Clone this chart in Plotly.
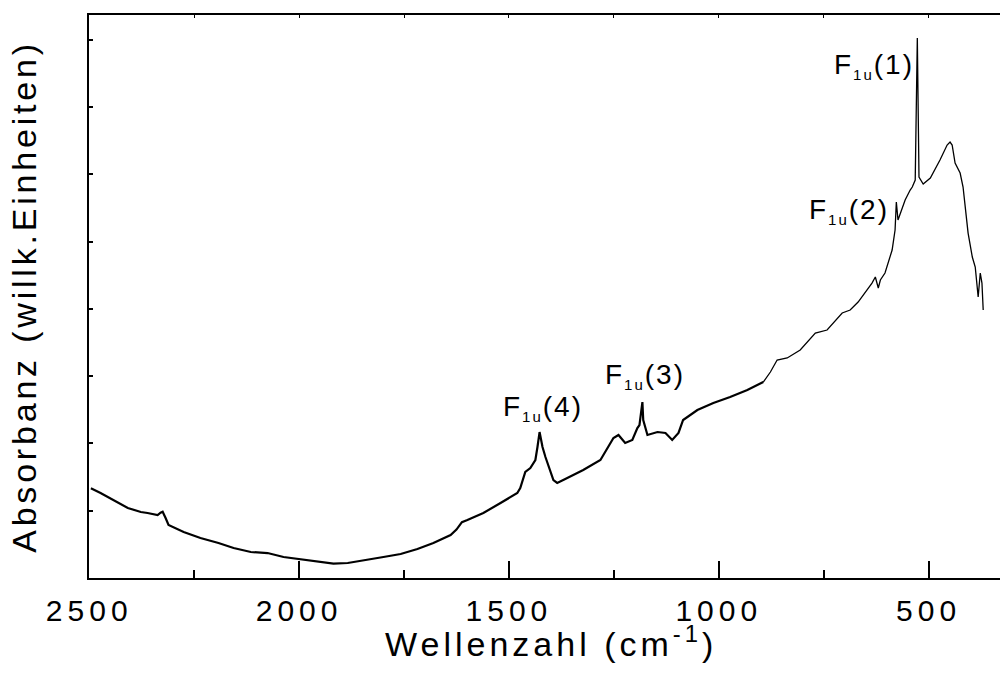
import plotly.graph_objects as go

# ---- data (wavenumber in cm^-1, absorbance in arbitrary units) ----
wavenumber = [2496, 2473, 2408, 2377, 2361, 2337, 2330, 2325, 2318, 2311, 2275, 2235, 2192, 2156,
              2115, 2075, 2037, 1996, 1956, 1918, 1884, 1837, 1799, 1758, 1718, 1680, 1639, 1625,
              1612, 1599, 1561, 1520, 1480, 1473, 1461, 1449, 1437, 1432, 1427, 1420, 1413, 1394,
              1385, 1361, 1323, 1282, 1251, 1239, 1223, 1206, 1194, 1189, 1185, 1182, 1180, 1170,
              1146, 1127, 1111, 1096, 1085, 1051, 1013, 973, 932, 894, 877, 861, 837, 806, 770,
              742, 706, 687, 668, 635, 627, 620, 615, 604, 587, 580, 577, 573, 561, 556, 544, 539,
              532, 527, 523, 513, 496, 473, 456, 449, 444, 437, 425, 418, 406, 396, 389, 382, 377,
              373, 370]
absorbance = [1.333, 1.263, 1.040, 0.981, 0.966, 0.936, 0.970, 0.985, 0.892, 0.788, 0.684, 0.594,
              0.520, 0.446, 0.386, 0.371, 0.312, 0.275, 0.238, 0.215, 0.223, 0.267, 0.312, 0.357,
              0.431, 0.520, 0.639, 0.720, 0.830, 0.862, 0.966, 1.114, 1.263, 1.337, 1.575, 1.634,
              1.753, 1.947, 2.169, 1.947, 1.798, 1.456, 1.412, 1.486, 1.605, 1.753, 2.080, 2.125,
              2.006, 2.051, 2.229, 2.273, 2.496, 2.615, 2.348, 2.125, 2.169, 2.155, 2.051, 2.155,
              2.348, 2.496, 2.600, 2.689, 2.793, 2.912, 3.061, 3.239, 3.269, 3.388, 3.640, 3.685,
              3.938, 3.982, 4.101, 4.383, 4.473, 4.309, 4.428, 4.532, 4.874, 5.171, 5.587, 5.319,
              5.513, 5.617, 5.765, 5.810, 5.914, 8.024, 5.958, 5.854, 5.944, 6.211, 6.434, 6.478,
              6.434, 6.166, 6.018, 5.810, 5.126, 4.770, 4.621, 4.175, 4.532, 4.383, 3.982]

x_tick_values = [2500, 2000, 1500, 1000, 500]
x_tick_labels = ["2500", "2000", "1500", "1000", "500"]

SUB = "<sub><span style='font-size:15px'>1u</span></sub>"
peak_labels = ["F" + SUB + "(1)", "F" + SUB + "(2)", "F" + SUB + "(3)", "F" + SUB + "(4)"]
peak_label_x = [630, 690, 1177, 1419]
peak_label_y = [7.33, 5.17, 2.715, 2.24]

X_TITLE = "Wellenzahl (cm<sup>-1</sup>)"
Y_TITLE = "Absorbanz (willk.Einheiten)"

FONT = "Liberation Sans, Arial, Helvetica, sans-serif"
NOISY_FROM = 894  # noisy (thicker looking) part of the spectrum: wavenumbers >= this

noisy_x = [w for w in wavenumber if w >= NOISY_FROM]
noisy_y = [a for w, a in zip(wavenumber, absorbance) if w >= NOISY_FROM]
smooth_x = [w for w in wavenumber if w <= NOISY_FROM]
smooth_y = [a for w, a in zip(wavenumber, absorbance) if w <= NOISY_FROM]

fig = go.Figure()
fig.add_trace(go.Scatter(x=noisy_x, y=noisy_y, mode="lines",
                         line=dict(color="black", width=2.2), showlegend=False, hoverinfo="skip"))
fig.add_trace(go.Scatter(x=smooth_x, y=smooth_y, mode="lines",
                         line=dict(color="black", width=1.3), showlegend=False, hoverinfo="skip"))
# invisible copy on the top axis so that its small ticks are drawn
fig.add_trace(go.Scatter(x=wavenumber, y=absorbance, xaxis="x2", mode="lines",
                         line=dict(color="rgba(0,0,0,0)", width=0), showlegend=False,
                         hoverinfo="skip"))

x_range = [2500.5, 330]

fig.update_layout(
    width=1000, height=682,
    margin=dict(l=89, r=0, t=15, b=104),
    paper_bgcolor="white", plot_bgcolor="white",
    font=dict(family=FONT, color="black"),
    xaxis=dict(
        range=x_range, tickmode="array", tickvals=x_tick_values, ticktext=x_tick_labels,
        ticks="inside", ticklen=17, tickwidth=2, tickcolor="black",
        minor=dict(dtick=250, tick0=0, ticks="inside", ticklen=8, tickwidth=2,
                   tickcolor="black", showgrid=False),
        showline=True, linewidth=2, linecolor="black", mirror=True,
        showgrid=False, zeroline=False,
        tickfont=dict(size=30, family=FONT, color="black"),
        ticklabelstandoff=5,
        automargin=False,
    ),
    xaxis2=dict(
        range=x_range, overlaying="x", side="top", anchor="y",
        tickmode="linear", dtick=250, tick0=0, ticks="inside", ticklen=3, tickwidth=1,
        tickcolor="black", showticklabels=False, showline=False, showgrid=False,
        zeroline=False, automargin=False,
    ),
    yaxis=dict(
        range=[0, 8.366], tickmode="linear", dtick=1, tick0=0,
        ticks="inside", ticklen=4, tickwidth=2, tickcolor="black",
        showticklabels=False, showline=True, linewidth=2, linecolor="black",
        mirror=False, showgrid=False, zeroline=False,
        title=dict(text=Y_TITLE, font=dict(size=34, family=FONT), standoff=40),
        automargin=False,
    ),
)

# x axis title (placed as a paper annotation to match the reference spacing)
fig.add_annotation(x=0.507, y=-0.112, xref="paper", yref="paper", text=X_TITLE,
                   showarrow=False, xanchor="center", yanchor="middle",
                   font=dict(size=34, family=FONT, color="black"))

for txt, lx, ly in zip(peak_labels, peak_label_x, peak_label_y):
    fig.add_annotation(x=lx, y=ly, xref="x", yref="y", text=txt, showarrow=False,
                       xanchor="center", yanchor="bottom",
                       font=dict(size=28, family=FONT, color="black"))

post = """
var gd = document.getElementById('{plot_id}');
function sp(sel, v){ gd.querySelectorAll(sel).forEach(function(t){ t.style.letterSpacing = v; }); }
sp('.xtick text', '5px');
sp('.g-ytitle text', '3.8px');
gd.querySelectorAll('.annotation-text').forEach(function(t){
  t.style.letterSpacing = (t.textContent.indexOf('Wellenzahl') === 0) ? '4px' : '2px';
});
"""

fig.write_html("out.html", post_script=post, config={"displayModeBar": False})
